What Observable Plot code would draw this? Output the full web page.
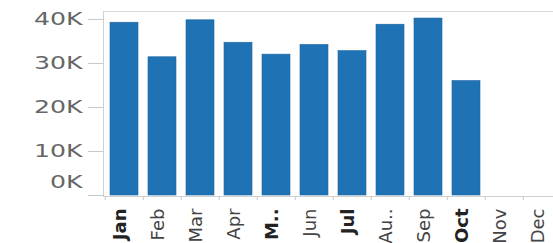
<!DOCTYPE html>
<html>
<head>
<meta charset="utf-8">
<script src="https://cdn.jsdelivr.net/npm/d3@7"></script>
<script src="https://cdn.jsdelivr.net/npm/@observablehq/plot@0.6"></script>
<style>
  html, body { margin: 0; padding: 0; background: #fff; overflow: hidden; }
</style>
</head>
<body>
<div id="chart"></div>
<script>
// ---- data ----
const months = ["Jan","Feb","Mar","Apr","May","Jun","Jul","Aug","Sep","Oct","Nov","Dec"];
const monthLabels = ["Jan","Feb","Mar","Apr","M..","Jun","Jul","Au..","Sep","Oct","Nov","Dec"];
const sales = [39250, 31400, 39800, 34700, 32000, 34200, 32800, 38800, 40200, 26000, null, null];
const yTicks = [0, 10000, 20000, 30000, 40000];
const yTickLabels = ["0K", "10K", "20K", "30K", "40K"];
const highlightedMonths = ["Jan", "May", "Jul", "Oct"];

// ---- build table ----
const data = months.map((m, i) => ({month: m, value: sales[i]})).filter(d => d.value != null);
const labelOf = m => monthLabels[months.indexOf(m)];
const yLabelOf = v => yTickLabels[yTicks.indexOf(v)];

const step = 38.45;
const chart = Plot.plot({
  width: 553,
  height: 243,
  marginTop: 11,
  marginLeft: 103,
  marginRight: 0,
  marginBottom: 47,
  style: {fontFamily: "DejaVu Sans", fontSize: "18px", background: "#fff", overflow: "hidden"},
  x: {domain: months, range: [102.5, 102.5 + 12 * step], paddingInner: 0.26, paddingOuter: 0.13, axis: null},
  y: {domain: [0, 41800], range: [195, 11], axis: null},
  marks: [
    Plot.frame({anchor: "top", stroke: "#d8d8d8"}),
    Plot.frame({anchor: "left", stroke: "#d0d0d0"}),
    Plot.frame({anchor: "bottom", stroke: "#d0d0d0"}),
    Plot.barY(data, {x: "month", y: "value", fill: "#1f72b3", stroke: "#1b65a0", strokeWidth: 0.6}),
    // band separators on the x axis
    Plot.axisX({tickSize: 4, tickFormat: () => "", dx: -step / 2, stroke: "#c8c8c8", label: null}),
    // month labels
    Plot.axisX({ticks: months.filter(m => !highlightedMonths.includes(m)), tickSize: 0, tickPadding: 12,
      tickRotate: -90, tickFormat: labelOf, fill: "#444", fontSize: 18, dx: -4, label: null}),
    Plot.axisX({ticks: highlightedMonths, tickSize: 0, tickPadding: 12, tickRotate: -90,
      tickFormat: labelOf, fill: "#222", fontWeight: "bold", fontSize: 18, dx: -4, label: null}),
    // y tick marks
    Plot.axisY({ticks: yTicks, tickSize: 15, tickFormat: () => "", stroke: "#c8c8c8", label: null}),
    // y labels
    Plot.axisY({ticks: yTicks.filter(v => v > 0), tickSize: 0, tickPadding: 21, tickFormat: yLabelOf,
      fill: "#666", fontSize: 18, label: null}),
    Plot.axisY({ticks: [0], tickSize: 0, tickPadding: 21, tickFormat: yLabelOf,
      fill: "#666", fontSize: 18, dy: -13.5, label: null})
  ]
});
document.getElementById("chart").appendChild(chart);

// widen the y labels (the reference uses a wide face)
d3.select(chart).selectAll("text")
  .filter(function() { return /K$/.test(this.textContent); })
  .each(function() {
    const w = this.getComputedTextLength();
    this.setAttribute("textLength", (w * 1.4).toFixed(1));
    this.setAttribute("lengthAdjust", "spacingAndGlyphs");
  });
</script>
</body>
</html>
